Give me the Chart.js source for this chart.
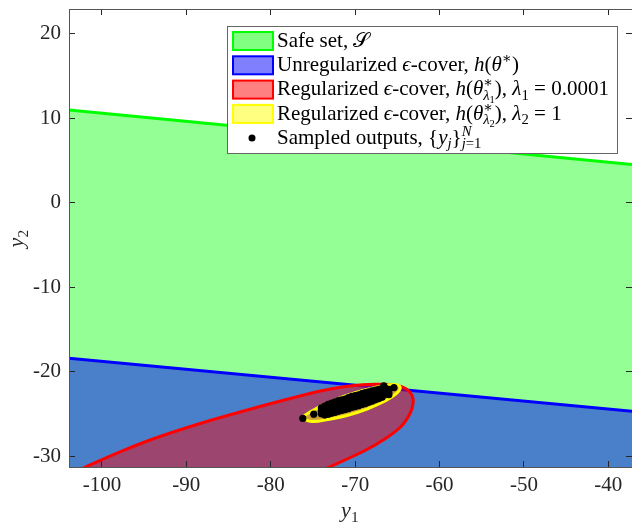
<!DOCTYPE html>
<html>
<head>
<meta charset="utf-8">
<script src="https://cdn.jsdelivr.net/npm/chart.js@4.4.1/dist/chart.umd.min.js"></script>
<style>
  body { margin: 0; background: #fff; }
  canvas { display: block; }
</style>
</head>
<body>
<canvas id="chart" width="632" height="527"></canvas>
<script>
// axis limits and ticks
const xLimits = [-103.9, -37.2];
const yLimits = [-31.3, 22.9];
const xTicks = [-100, -90, -80, -70, -60, -50, -40];
const yTicks = [-30, -20, -10, 0, 10, 20];

// safe set boundary (upper edge)
const safeY1 = [-103.9, -37.2];
const safeY2 = [10.95, 4.5];

// unregularized cover boundary (upper edge)
const unregY1 = [-103.9, -37.2];
const unregY2 = [-18.44, -24.7];

// regularized cover, lambda1 = 0.0001 (visible arc, runs off the bottom)
const regAY1 = [-104.97, -101.89, -97.5, -93.12, -87.19, -81.27, -76.53, -73.81, -70.61, -67.64, -65.27, -63.97, -63.26, -63.14, -63.5, -64.56, -66.58, -68.95, -72.98, -75.5];
const regAY2 = [-32.72, -31.27, -29.35, -27.69, -25.8, -24.14, -22.9, -22.25, -21.72, -21.51, -21.58, -22.03, -22.84, -23.79, -24.97, -26.51, -28.05, -29.41, -31.27, -32.4];

// regularized cover, lambda2 = 1
const regBY1 = [-76.41, -75.35, -73.57, -71.2, -68.83, -66.81, -65.39, -64.68, -65.04, -66.46, -68.6, -70.97, -73.21, -75.11, -76.41];
const regBY2 = [-25.5, -24.79, -23.85, -22.9, -22.19, -21.72, -21.54, -21.83, -22.54, -23.49, -24.44, -25.21, -25.68, -25.92, -25.5];

// sampled outputs
const sampleY1 = [
  -76.2, -74.9, -66.6, -65.4,
  -74.0, -74.0, -74.0,
  -73.6, -73.6, -73.6, -73.6,
  -73.2, -73.2, -73.2, -73.2,
  -72.8, -72.8, -72.8, -72.8,
  -72.4, -72.4, -72.4, -72.4,
  -72.0, -72.0, -72.0, -72.0,
  -71.6, -71.6, -71.6, -71.6,
  -71.2, -71.2, -71.2, -71.2,
  -70.8, -70.8, -70.8, -70.8,
  -70.4, -70.4, -70.4, -70.4,
  -70.0, -70.0, -70.0, -70.0,
  -69.6, -69.6, -69.6, -69.6,
  -69.2, -69.2, -69.2, -69.2,
  -68.8, -68.8, -68.8, -68.8,
  -68.4, -68.4, -68.4, -68.4,
  -68.0, -68.0, -68.0, -68.0,
  -67.6, -67.6, -67.6, -67.6,
  -67.2, -67.2, -67.2, -67.2,
  -66.8, -66.8, -66.8, -66.8,
  -66.4, -66.4, -66.4,
  -66.0, -66.0, -66.0
];
const sampleY2 = [
  -25.55, -25.05, -21.7, -21.9,
  -24.3, -24.7, -25.0,
  -24.1, -24.5, -24.9, -25.15,
  -23.9, -24.3, -24.7, -25.05,
  -23.75, -24.15, -24.55, -24.95,
  -23.6, -24.0, -24.4, -24.85,
  -23.45, -23.85, -24.25, -24.7,
  -23.35, -23.75, -24.15, -24.6,
  -23.25, -23.65, -24.05, -24.5,
  -23.1, -23.5, -23.9, -24.4,
  -22.95, -23.35, -23.75, -24.25,
  -22.85, -23.25, -23.65, -24.15,
  -22.75, -23.15, -23.55, -24.05,
  -22.6, -23.0, -23.4, -23.9,
  -22.5, -22.9, -23.3, -23.8,
  -22.4, -22.8, -23.2, -23.65,
  -22.3, -22.7, -23.1, -23.5,
  -22.2, -22.6, -23.0, -23.35,
  -22.1, -22.5, -22.9, -23.2,
  -22.0, -22.4, -22.8, -23.05,
  -22.0, -22.35, -22.7,
  -22.1, -22.45, -22.75
];

const toPoints = (xs, ys) => xs.map((x, i) => ({ x: x, y: ys[i] }));

const SERIF = '"Liberation Serif", "DejaVu Serif", serif';
const AXIS_COLOR = '#262626';

// draws a run list with italics, sub- and superscripts
function drawRich(ctx, runs, x, y, size) {
  let cx = x, markX = x, supEnd = null;
  runs.forEach(r => {
    let s = size, dy = 0;
    if (r.pos === 'sup') { s = size * 0.7; dy = -size * 0.38; }
    if (r.pos === 'sub') { s = size * 0.7; dy = size * 0.22; }
    if (r.pos === 'subsub') { s = size * 0.5; dy = size * 0.36; }
    if (!r.pos && supEnd !== null) { cx = Math.max(cx, supEnd); supEnd = null; }
    if (r.mark) markX = cx;
    if (r.stack) { supEnd = cx; cx = markX; }
    ctx.font = (r.it ? 'italic ' : '') + s + 'px ' + SERIF;
    ctx.fillText(r.t, cx, y + dy);
    cx += ctx.measureText(r.t).width;
  });
}

const legendItems = [
  { fill: 'rgb(128,255,128)', edge: '#00ff00', runs: [{ t: 'Safe set, ' }, { t: '\u{1D4AE}' }] },
  { fill: 'rgb(128,128,255)', edge: '#0000ff', runs: [{ t: 'Unregularized ' }, { t: '\u03F5', it: true }, { t: '-cover, ' }, { t: 'h', it: true }, { t: '(' }, { t: '\u03B8', it: true }, { t: '\u2217', pos: 'sup' }, { t: ')' }] },
  { fill: 'rgb(255,128,128)', edge: '#ff0000', runs: [{ t: 'Regularized ' }, { t: '\u03F5', it: true }, { t: '-cover, ' }, { t: 'h', it: true }, { t: '(' }, { t: '\u03B8', it: true }, { t: '\u2217', pos: 'sup', mark: true }, { t: '\u03BB', it: true, pos: 'sub', stack: true }, { t: '1', pos: 'subsub' }, { t: '), ' }, { t: '\u03BB', it: true }, { t: '1', pos: 'sub' }, { t: ' = 0.0001' }] },
  { fill: 'rgb(255,255,128)', edge: '#ffff00', runs: [{ t: 'Regularized ' }, { t: '\u03F5', it: true }, { t: '-cover, ' }, { t: 'h', it: true }, { t: '(' }, { t: '\u03B8', it: true }, { t: '\u2217', pos: 'sup', mark: true }, { t: '\u03BB', it: true, pos: 'sub', stack: true }, { t: '2', pos: 'subsub' }, { t: '), ' }, { t: '\u03BB', it: true }, { t: '2', pos: 'sub' }, { t: ' = 1' }] },
  { dot: true, runs: [{ t: 'Sampled outputs, ' }, { t: '{' }, { t: 'y', it: true }, { t: 'j', it: true, pos: 'sub' }, { t: '}' }, { t: 'j', it: true, pos: 'sub', mark: true }, { t: '=1', pos: 'sub' }, { t: 'N', it: true, pos: 'sup', stack: true }] }
];

const decorations = {
  id: 'decorations',
  afterDraw(chart) {
    const ctx = chart.ctx;
    const area = chart.chartArea;
    ctx.save();
    ctx.fillStyle = AXIS_COLOR;
    ctx.textAlign = 'left';
    ctx.textBaseline = 'alphabetic';

    // axis titles
    ctx.font = 'italic 22px ' + SERIF;
    const wx = ctx.measureText('y').width + 9;
    drawRich(ctx, [{ t: 'y', it: true }, { t: '1', pos: 'sub' }], (area.left + area.right) / 2 - wx / 2, 517, 22);
    ctx.save();
    ctx.translate(23, (area.top + area.bottom) / 2 + wx / 2);
    ctx.rotate(-Math.PI / 2);
    drawRich(ctx, [{ t: 'y', it: true }, { t: '2', pos: 'sub' }], 0, 0, 22);
    ctx.restore();

    // legend box
    const bx = 227, by = 26, bw = 390, bh = 127;
    ctx.fillStyle = '#ffffff';
    ctx.fillRect(bx, by, bw, bh);
    ctx.strokeStyle = '#666666';
    ctx.lineWidth = 1;
    ctx.strokeRect(bx + 0.5, by + 0.5, bw, bh);

    legendItems.forEach((item, i) => {
      const rowTop = 32 + i * 24.3;
      if (item.dot) {
        ctx.fillStyle = '#000';
        ctx.beginPath();
        ctx.arc(252, 138, 3.5, 0, Math.PI * 2);
        ctx.fill();
      } else {
        ctx.fillStyle = item.fill;
        ctx.fillRect(233, rowTop, 40, 18);
        ctx.strokeStyle = item.edge;
        ctx.lineWidth = 2;
        ctx.strokeRect(233, rowTop, 40, 18);
      }
      ctx.fillStyle = '#000';
      drawRich(ctx, item.runs, 277, 47 + i * 24.2, 21);
    });
    ctx.restore();
  }
};

const sharedTicks = {
  font: { family: SERIF, size: 21 },
  color: AXIS_COLOR,
  autoSkip: false,
  maxRotation: 0,
  callback: v => String(v)
};

function fitX(h) {
  return s => { s.height = h; s.paddingLeft = 0; s.paddingRight = 0; };
}
function fitY(w) {
  return s => { s.width = w; s.paddingTop = 0; s.paddingBottom = 0; };
}

new Chart(document.getElementById('chart'), {
  type: 'scatter',
  data: {
    datasets: [
      {
        label: 'samples',
        data: toPoints(sampleY1, sampleY2),
        pointRadius: 3.6,
        pointBackgroundColor: '#000',
        pointBorderWidth: 0,
        showLine: false,
        order: 0
      },
      {
        label: 'reg2',
        data: toPoints(regBY1, regBY2),
        showLine: true,
        borderColor: '#ffff00',
        borderWidth: 3,
        backgroundColor: 'rgba(255,255,0,0.5)',
        fill: 'shape',
        tension: 0.4,
        pointRadius: 0,
        order: 1
      },
      {
        label: 'reg1',
        data: toPoints(regAY1, regAY2),
        showLine: true,
        borderColor: '#ff0000',
        borderWidth: 3,
        backgroundColor: 'rgba(255,0,0,0.45)',
        fill: 'shape',
        tension: 0.35,
        pointRadius: 0,
        order: 2
      },
      {
        label: 'unreg',
        data: toPoints(unregY1, unregY2),
        showLine: true,
        borderColor: '#0000ff',
        borderWidth: 3,
        backgroundColor: 'rgba(0,0,255,0.5)',
        fill: 'start',
        pointRadius: 0,
        order: 3
      },
      {
        label: 'safe',
        data: toPoints(safeY1, safeY2),
        showLine: true,
        borderColor: '#00ff00',
        borderWidth: 3,
        backgroundColor: 'rgba(0,255,0,0.42)',
        fill: 'start',
        pointRadius: 0,
        order: 4
      }
    ]
  },
  options: {
    responsive: false,
    animation: false,
    devicePixelRatio: 1,
    layout: { autoPadding: false, padding: { top: 9, left: 0, right: 0, bottom: 0 } },
    plugins: { legend: { display: false }, tooltip: { enabled: false } },
    scales: {
      x: {
        type: 'linear', position: 'bottom',
        min: xLimits[0], max: xLimits[1],
        afterBuildTicks: s => { s.ticks = xTicks.map(v => ({ value: v })); },
        afterFit: fitX(60),
        ticks: Object.assign({ padding: 12 }, sharedTicks),
        grid: { drawOnChartArea: false, tickLength: -6, tickColor: AXIS_COLOR, z: 1 },
        border: { color: '#555', width: 1, z: 1 }
      },
      x2: {
        type: 'linear', position: 'top',
        min: xLimits[0], max: xLimits[1],
        afterBuildTicks: s => { s.ticks = xTicks.map(v => ({ value: v })); },
        afterFit: fitX(0),
        ticks: { display: false },
        grid: { drawOnChartArea: false, tickLength: -6, tickColor: AXIS_COLOR, z: 1 },
        border: { color: '#555', width: 1, z: 1 }
      },
      y: {
        type: 'linear', position: 'left',
        min: yLimits[0], max: yLimits[1],
        afterBuildTicks: s => { s.ticks = yTicks.map(v => ({ value: v })); },
        afterFit: fitY(69),
        ticks: Object.assign({ padding: 14 }, sharedTicks),
        grid: { drawOnChartArea: false, tickLength: -6, tickColor: AXIS_COLOR, z: 1 },
        border: { color: '#555', width: 1, z: 1 }
      },
      y2: {
        type: 'linear', position: 'right',
        min: yLimits[0], max: yLimits[1],
        afterBuildTicks: s => { s.ticks = yTicks.map(v => ({ value: v })); },
        afterFit: fitY(0),
        ticks: { display: false },
        grid: { drawOnChartArea: false, tickLength: -6, tickColor: AXIS_COLOR, z: 1 },
        border: { color: '#555', width: 1, z: 1 }
      }
    }
  },
  plugins: [decorations]
});
</script>
</body>
</html>
